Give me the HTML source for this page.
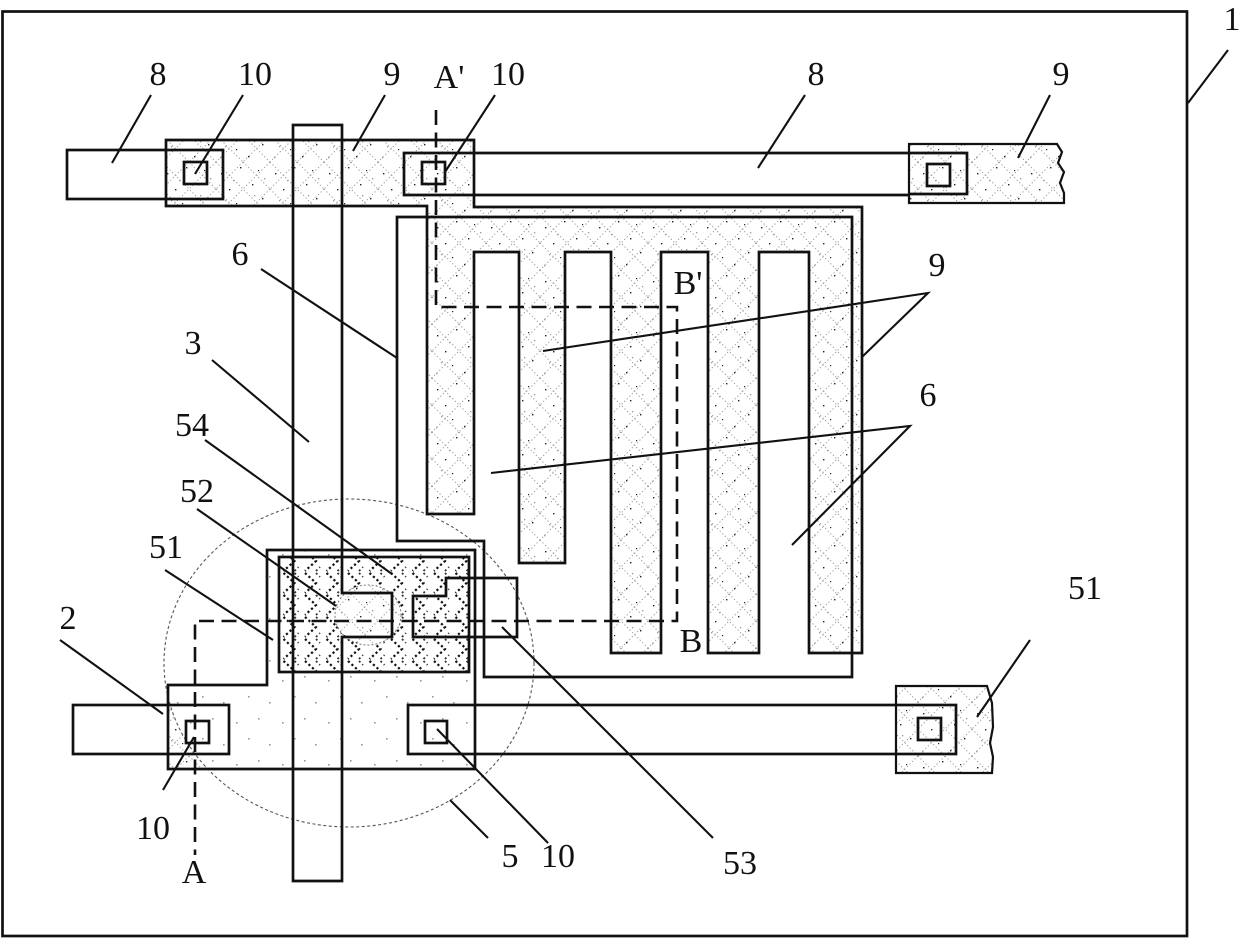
<!DOCTYPE html>
<html><head><meta charset="utf-8"><style>
html,body{margin:0;padding:0;background:#fff;width:1240px;height:941px;overflow:hidden}
svg{display:block}
text{font-family:"Liberation Serif",serif;font-size:34px;fill:#111;text-anchor:middle}
.l{fill:none;stroke:#111;stroke-width:2.7;stroke-linejoin:miter}
.t{fill:none;stroke:#111;stroke-width:2.1}
.d{fill:none;stroke:#111;stroke-width:2.6;stroke-dasharray:15 7.5}
</style></head><body>
<svg width="1240" height="941" viewBox="0 0 1240 941" xmlns="http://www.w3.org/2000/svg">
<defs>
<pattern id="lt" width="54" height="54" patternUnits="userSpaceOnUse">
<rect width="54" height="54" fill="#fff"/>
<path d="M0 0L54 54M27 0L54 27M0 27L27 54M54 0L0 54M27 0L0 27M54 27L27 54" stroke="#999" stroke-width="1" stroke-dasharray="1.2 2.4" fill="none"/>
<g fill="#222"><rect x="5" y="11" width="1.4" height="1.4"/><rect x="24" y="5" width="1.4" height="1.4"/><rect x="13" y="27" width="1.4" height="1.4"/><rect x="36" y="22" width="1.4" height="1.4"/><rect x="20" y="41" width="1.2" height="1.2"/><rect x="46" y="36" width="1.4" height="1.4"/><rect x="42" y="8" width="1.2" height="1.2"/><rect x="32" y="48" width="1.4" height="1.4"/></g>
<g fill="#999"><rect x="9" y="38" width="1.3" height="1.3"/><rect x="17" y="18" width="1.3" height="1.3"/><rect x="48" y="16" width="1.3" height="1.3"/><rect x="38" y="33" width="1.3" height="1.3"/><rect x="4" y="49" width="1.3" height="1.3"/></g>
</pattern>
<pattern id="dn" width="21.5" height="22" patternUnits="userSpaceOnUse">
<rect width="21.5" height="22" fill="#fff"/>
<path d="M4 1L15 11L4 21" stroke="#111" stroke-width="2.2" stroke-dasharray="2.2 2.6" fill="none"/>
<path d="M15 1L19 5M15 21L19 17" stroke="#333" stroke-width="1.8" stroke-dasharray="2 2.6" fill="none"/>
</pattern>
<pattern id="sp" width="46" height="42" patternUnits="userSpaceOnUse">
<rect width="46" height="42" fill="#fff"/>
<g fill="#999"><rect x="6" y="8" width="1.6" height="1.6"/><rect x="28" y="4" width="1.6" height="1.6"/><rect x="18" y="24" width="1.6" height="1.6"/><rect x="39" y="30" width="1.6" height="1.6"/></g>
</pattern>
<clipPath id="c5"><path d="M267 550H475V769H168V685H267Z"/></clipPath>
</defs>

<rect class="l" x="2.5" y="11.5" width="1184.5" height="924.5"/>

<!-- textured fills -->
<path fill="url(#lt)" d="M166 140H474V207H862V653H809V252H759V653H708V252H661V653H611V252H565V563H519V252H474V514H427V206H166Z"/>
<path fill="url(#lt)" d="M909 144H1057L1062 152L1058 163L1064 172L1060 183L1064 193L1064 203H909Z"/>
<path fill="url(#lt)" d="M896 686H987L992 703L993 727L990 743L993 757L992 773H896Z"/>
<path fill="url(#lt)" d="M267 550H475V769H168V685H267Z"/>
<ellipse cx="349" cy="663" rx="185" ry="164" fill="url(#sp)" clip-path="url(#c5)"/>
<rect x="279" y="557" width="190" height="115" fill="url(#dn)"/>
<ellipse cx="368" cy="615" rx="33" ry="30" fill="url(#lt)"/>
<ellipse cx="368" cy="615" rx="33" ry="30" fill="none" stroke="#777" stroke-width="1" stroke-dasharray="2 2"/>
<ellipse cx="349" cy="663" rx="185" ry="164" fill="none" stroke="#555" stroke-width="1.1" stroke-dasharray="3 2.5"/>

<!-- layer outlines -->
<path class="l" d="M166 140H474V207H862V653H809V252H759V653H708V252H661V653H611V252H565V563H519V252H474V514H427V206H166Z"/>
<path class="l" d="M397 217H852V677H484V541H397Z"/>
<path class="l" d="M293 125H342V593H392V637H342V881H293Z"/>
<path class="l" d="M267 550H475V769H168V685H267Z"/>
<rect class="l" x="279" y="557" width="190" height="115"/>
<path class="l" d="M413 596H446V578H517V637H413Z"/>
<rect class="l" x="67" y="150" width="156" height="49"/>
<path class="l" d="M909 153H404V195H909"/>
<path class="l" d="M909 153H967V194H909"/>
<path d="M909 144H1057L1062 152L1058 163L1064 172L1060 183L1064 193L1064 203H909Z" fill="none" stroke="#111" stroke-width="2.2"/>
<path d="M896 686H987L992 703L993 727L990 743L993 757L992 773H896Z" fill="none" stroke="#111" stroke-width="2.2"/>
<rect class="l" x="73" y="705" width="156" height="49"/>
<rect class="l" x="408" y="705" width="548" height="49"/>

<!-- contact squares -->
<rect class="l" x="184" y="162" width="23" height="22"/>
<rect class="l" x="422" y="162" width="23" height="22"/>
<rect class="l" x="927" y="164" width="23" height="22"/>
<rect class="l" x="186" y="721" width="23" height="22"/>
<rect class="l" x="425" y="721" width="22" height="22"/>
<rect class="l" x="918" y="718" width="23" height="22"/>

<!-- section lines -->
<path class="d" d="M436 110V307H677V621H195V855"/>

<!-- leaders -->
<path class="t" d="M112 163L151 95M195 174L243 95M353 151L385 95M445 172L495 95M758 168L805 95M1018 158L1050 95M1188 103L1228 50
M261 269L397 358M212 360L309 442M205 440L392 574M197 509L336 606M165 570L273 640M60 640L163 714M163 790L194 737M488 838L450 800M548 843L437 729M713 838L502 627M1030 640L977 717
M543 351L928 293L862 357M491 473L910 426L792 545"/>

<!-- labels -->
<text x="158" y="85">8</text>
<text x="255" y="85">10</text>
<text x="392" y="85">9</text>
<text x="449" y="88">A'</text>
<text x="508" y="85">10</text>
<text x="816" y="85">8</text>
<text x="1061" y="85">9</text>
<text x="1232" y="30">1</text>
<text x="240" y="265">6</text>
<text x="937" y="276">9</text>
<text x="928" y="406">6</text>
<text x="193" y="354">3</text>
<text x="192" y="436">54</text>
<text x="197" y="502">52</text>
<text x="166" y="558">51</text>
<text x="68" y="629">2</text>
<text x="688" y="294">B'</text>
<text x="691" y="652">B</text>
<text x="1085" y="599">51</text>
<text x="153" y="839">10</text>
<text x="194" y="883">A</text>
<text x="510" y="867">5</text>
<text x="558" y="867">10</text>
<text x="740" y="874">53</text>
</svg>
</body></html>
